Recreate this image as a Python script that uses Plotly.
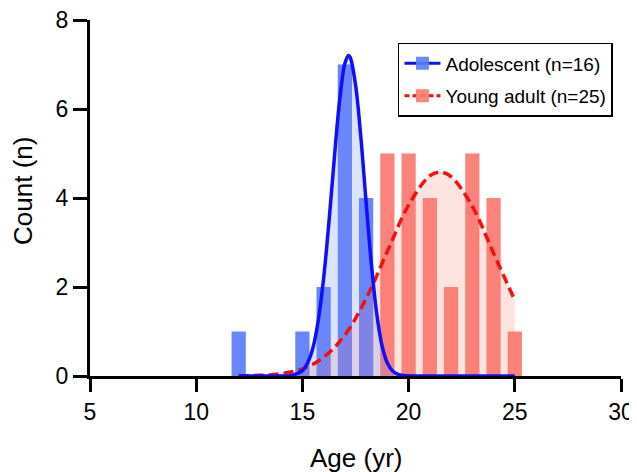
import plotly.graph_objects as go

# ---- data ----
ado_age = [12, 15, 16, 17, 18]
ado_count = [1, 1, 2, 7, 4]

ya_age = [19, 20, 21, 22, 23, 24, 25]
ya_count = [5, 5, 4, 2, 5, 4, 1]

# fitted curve
ado_fit_x = [12, 13, 14, 14.5, 15, 15.25, 15.5, 15.75, 16, 16.25, 16.5, 16.75, 17, 17.17,
             17.25, 17.5, 17.75, 18, 18.25, 18.5, 18.75, 19, 19.25, 19.5, 20, 21, 22, 23, 24, 25]
ado_fit_y = [0, 0, 0.001, 0.015, 0.12, 0.30, 0.64, 1.26, 2.20, 3.46, 4.88, 6.18, 7.02, 7.2,
             7.16, 6.55, 5.38, 3.90, 2.50, 1.40, 0.68, 0.29, 0.11, 0.035, 0.005, 0, 0, 0, 0, 0]

ya_fit_x = [12, 13, 14, 15, 16, 17, 18, 19, 20, 21, 21.5, 22, 23, 24, 25]
ya_fit_y = [0.003, 0.015, 0.052, 0.16, 0.42, 0.92, 1.74, 2.80, 3.84, 4.50, 4.58, 4.48, 3.81, 2.76, 1.70]

labels = ["Adolescent (n=16)", "Young adult (n=25)"]
x_title = "Age (yr)"
y_title = "Count (n)"

FONT = "Liberation Sans, Arial, Helvetica, sans-serif"
BLUE_BAR = "rgb(92,124,250)"
RED_BAR = "rgb(250,122,112)"

fig = go.Figure()

# shaded areas under fits
fig.add_trace(go.Scatter(x=ya_fit_x, y=ya_fit_y, mode="lines", line=dict(width=0, shape="spline"),
                         fill="tozeroy", fillcolor="rgba(250,120,105,0.20)", showlegend=False,
                         hoverinfo="skip"))
fig.add_trace(go.Scatter(x=ado_fit_x, y=ado_fit_y, mode="lines", line=dict(width=0, shape="spline"),
                         fill="tozeroy", fillcolor="rgba(110,140,250,0.24)", showlegend=False,
                         hoverinfo="skip"))

# histogram bars
fig.add_trace(go.Bar(x=ado_age, y=ado_count, width=0.67, marker=dict(color=BLUE_BAR, line=dict(width=0)),
                     opacity=0.92, showlegend=False))
fig.add_trace(go.Bar(x=ya_age, y=ya_count, width=0.67, marker=dict(color=RED_BAR, line=dict(width=0)),
                     opacity=0.92, showlegend=False))

# fit lines
fig.add_trace(go.Scatter(x=ya_fit_x, y=ya_fit_y, mode="lines",
                         line=dict(color="rgb(245,15,15)", width=3.5, dash="10px,5px", shape="spline"),
                         showlegend=False))
fig.add_trace(go.Scatter(x=ado_fit_x, y=ado_fit_y, mode="lines",
                         line=dict(color="rgb(15,15,250)", width=3.5, shape="spline"),
                         showlegend=False))

# legend entries
fig.add_trace(go.Scatter(x=[None], y=[None], mode="lines+markers", name=labels[0], legendgroup="a",
                         line=dict(color="rgb(15,15,250)", width=3),
                         marker=dict(symbol="square", size=13, color="rgba(92,124,250,0.9)")))
fig.add_trace(go.Scatter(x=[None], y=[None], mode="lines+markers", name=labels[1], legendgroup="b",
                         line=dict(color="rgb(245,15,15)", width=3, dash="5px,3px"),
                         marker=dict(symbol="square", size=13, color="rgba(250,122,112,0.9)")))

# the page body adds an 8px offset, so margins are shifted by 8px
fig.update_layout(
    width=637, height=472,
    margin=dict(l=82, r=24, t=12, b=104, autoexpand=False),
    plot_bgcolor="white", paper_bgcolor="white",
    barmode="overlay",
    font=dict(family=FONT, color="black"),
    showlegend=True,
    legend=dict(x=0.58, y=0.936, xanchor="left", yanchor="top",
                bordercolor="black", borderwidth=1.5, bgcolor="white",
                font=dict(size=19, family=FONT, color="black"),
                itemwidth=36, traceorder="grouped", tracegroupgap=5),
    xaxis=dict(range=[5, 30], tickvals=[5, 10, 15, 20, 25, 30], showgrid=False, zeroline=False,
               showline=True, linecolor="black", linewidth=3, automargin=False,
               ticklabeloverflow="allow",
               ticks="outside", ticklen=13, tickwidth=3, tickcolor="black",
               tickfont=dict(size=23, family=FONT, color="black")),
    yaxis=dict(range=[0, 8], tickvals=[0, 2, 4, 6, 8], showgrid=False, zeroline=False,
               showline=True, linecolor="black", linewidth=3, automargin=False,
               ticklabeloverflow="allow",
               ticks="outside", ticklen=14, tickwidth=3, tickcolor="black",
               tickfont=dict(size=23, family=FONT, color="black")),
    annotations=[
        dict(text=x_title, xref="paper", yref="paper", x=0.5, y=-0.23, xanchor="center",
             yanchor="middle", showarrow=False, font=dict(size=26, family=FONT, color="black")),
        dict(text=y_title, xref="paper", yref="paper", x=-0.126, y=0.52, xanchor="center",
             yanchor="middle", textangle=-90, showarrow=False,
             font=dict(size=26, family=FONT, color="black")),
    ],
)

fig.write_html("out.html")
